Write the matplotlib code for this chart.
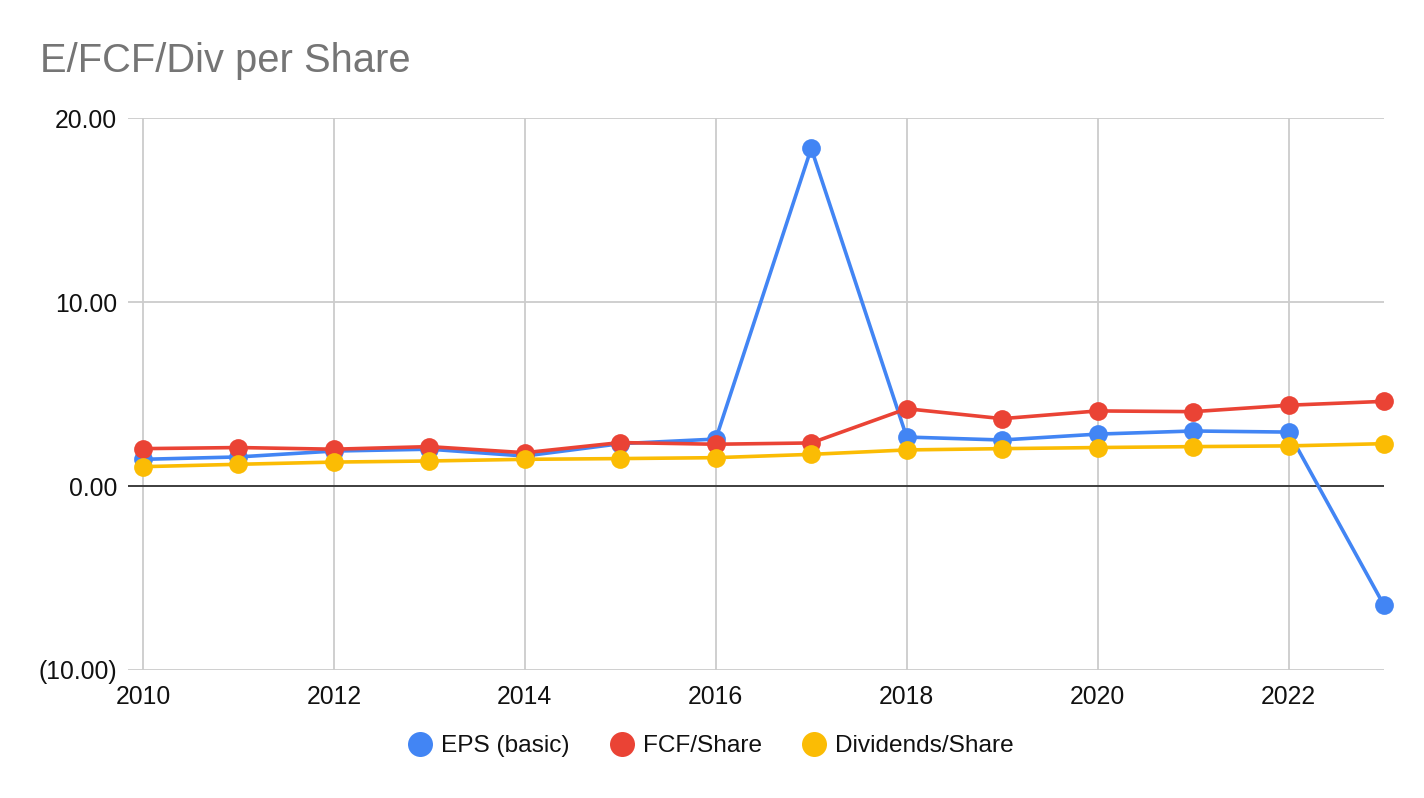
import numpy as np
import matplotlib
matplotlib.use("Agg")
import matplotlib.pyplot as plt
from matplotlib.lines import Line2D
from matplotlib.ticker import FuncFormatter

plt.rcParams['font.family'] = ['Liberation Sans', 'DejaVu Sans']

years = [2010, 2011, 2012, 2013, 2014, 2015, 2016, 2017, 2018, 2019, 2020, 2021, 2022, 2023]
eps_basic = [1.45, 1.58, 1.90, 2.00, 1.63, 2.30, 2.55, 18.35, 2.66, 2.50, 2.82, 2.99, 2.93, -6.48]
fcf_share = [2.03, 2.09, 2.00, 2.14, 1.81, 2.36, 2.27, 2.34, 4.20, 3.66, 4.08, 4.04, 4.39, 4.60]
div_share = [1.05, 1.18, 1.30, 1.36, 1.45, 1.49, 1.54, 1.72, 1.96, 2.03, 2.09, 2.14, 2.18, 2.30]

series_names = ['EPS (basic)', 'FCF/Share', 'Dividends/Share']
colors = ['#4285F4', '#EA4335', '#FBBC04']

fig = plt.figure(figsize=(14.24, 7.98), dpi=100)
ax = fig.add_axes([128 / 1424, 1 - 670 / 798, 1256 / 1424, 552 / 798])

for vals, name, c in zip([eps_basic, fcf_share, div_share], series_names, colors):
    ax.plot(years, vals, color=c, lw=2.6, marker='o', markersize=13.5,
            markeredgewidth=0, label=name, zorder=3, clip_on=False)

ax.axhline(0, color='#333333', lw=1.3, zorder=2)

ax.set_xlim(2010 - 15 * 13 / 1241, 2023)
ax.set_ylim(-10, 20)
ax.set_xticks(range(2010, 2023, 2))
ax.set_yticks([-10, 0, 10, 20])
ax.yaxis.set_major_formatter(FuncFormatter(
    lambda v, p: '(%.2f)' % abs(v) if v < 0 else '%.2f' % v))

ax.grid(True, color='#cccccc', lw=1.3, zorder=1)
for s in ax.spines.values():
    s.set_visible(False)
ax.tick_params(axis='both', length=0, labelsize=17.8, colors='#111111')
ax.tick_params(axis='y', pad=8)
ax.tick_params(axis='x', pad=11)

fig.text(40 / 1424, 1 - 72 / 798, 'E/FCF/Div per Share', fontsize=28.7,
         color='#757575', ha='left', va='baseline')

handles = [Line2D([], [], color=c, marker='o', linestyle='none', markersize=18,
                  markeredgewidth=0) for c in colors]
fig.legend(handles, series_names, loc='center', bbox_to_anchor=(712 / 1424, 1 - 746 / 798),
           ncol=3, frameon=False, fontsize=17.6, handlelength=0.8, handletextpad=0.45,
           columnspacing=1.75, labelcolor='#111111')

fig.savefig('out.png', dpi=100)
